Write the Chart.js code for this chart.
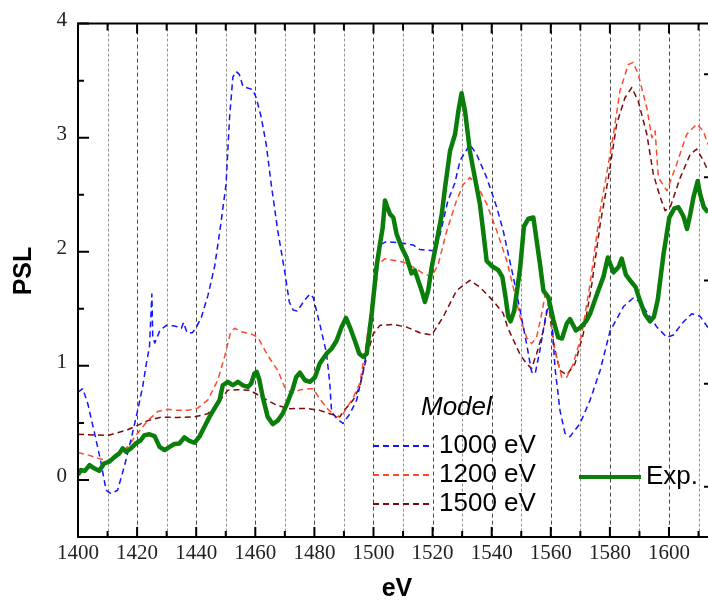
<!DOCTYPE html>
<html><head><meta charset="utf-8">
<script src="https://cdn.jsdelivr.net/npm/chart.js@4.4.1/dist/chart.umd.min.js"></script>
<style>html,body{margin:0;padding:0;background:#fff;overflow:hidden}#wrap{width:708px;height:600px}</style>
</head><body><div id="wrap"><canvas id="c" width="708" height="600"></canvas></div>
<script>
// ---- tick labels / grid ----
const xTicks = [1400,1420,1440,1460,1480,1500,1520,1540,1560,1580,1600];
const xMinorTicks = [1410,1430,1450,1470,1490,1510,1530,1550,1570,1590,1610];
const yTicks = [0,1,2,3,4];
const yMinorTicks = [0.5,1.5,2.5,3.5];
const rightTicks = [0,1,2,3,4];

// ---- series: Model 1000 eV ----
const m1000_eV = [1400,1401.6,1403.3,1405.6,1407.8,1409.5,1411.2,1413.4,1415.7,1417.9,1420.2,1421.9,1423.0,1424.2,1425.0,1425.3,1426.0,1427.7,1429.9,1432.7,1435.0,1435.7,1436.9,1438.7,1440.1,1441.8,1444.0,1446.3,1448.2,1450.1,1451.3,1452.4,1453.5,1454.6,1455.8,1459.2,1460.3,1462.0,1463.7,1465.4,1467.6,1469.9,1471.5,1472.8,1474.2,1476.8,1478.5,1479.6,1481.8,1484.1,1485.2,1485.8,1487.5,1489.7,1492.0,1494.3,1496.5,1499.4,1501.0,1502.2,1504.4,1507.8,1510.1,1513.4,1515.7,1520.2,1522.5,1525.2,1527.5,1529.3,1532.6,1534.9,1538.3,1541.7,1543.9,1545.1,1547.3,1549.6,1551.8,1553.5,1554.7,1556.3,1558.6,1559.7,1560.3,1561.4,1563.1,1564.8,1566.5,1569.9,1573.3,1576.7,1580.1,1580.6,1584.6,1587.9,1590.2,1593.6,1595.9,1599.3,1601.5,1604.3,1607.7,1610.5,1613.2];
const m1000_psl = [0.77,0.80,0.67,0.41,0.15,-0.09,-0.12,-0.09,0.12,0.35,0.61,0.82,1.00,1.17,1.63,1.25,1.20,1.31,1.355,1.35,1.33,1.38,1.29,1.29,1.34,1.43,1.62,1.88,2.22,2.59,3.18,3.53,3.58,3.555,3.45,3.42,3.35,3.18,2.94,2.59,2.185,1.835,1.56,1.49,1.48,1.58,1.63,1.60,1.37,1.11,0.85,0.60,0.54,0.495,0.58,0.70,0.95,1.40,1.75,2.06,2.09,2.08,2.075,2.06,2.02,2.01,2.15,2.45,2.60,2.80,2.94,2.855,2.65,2.39,2.185,2.04,1.78,1.486,1.195,0.947,0.93,1.136,1.486,1.515,1.43,0.99,0.61,0.41,0.38,0.495,0.70,0.96,1.31,1.33,1.52,1.595,1.56,1.43,1.34,1.25,1.27,1.37,1.457,1.435,1.335];

// ---- series: Model 1200 eV ----
const m1200_eV = [1400,1403.3,1406.7,1410.1,1413.4,1416.8,1420.2,1423.6,1427.0,1430.4,1433.8,1437.1,1440.5,1443.9,1447.3,1449.6,1451.6,1453.0,1455.2,1458.6,1460.9,1464.0,1467.6,1469.9,1472.3,1475.1,1478.5,1479.6,1481.8,1484.6,1487.5,1489.7,1493.1,1495.4,1497.7,1499.9,1501.6,1503.9,1507.8,1510.1,1513.4,1516.8,1519.7,1521.9,1524.8,1528.1,1530.4,1532.6,1534.9,1538.3,1541.7,1545.1,1547.3,1549.6,1551.8,1553.5,1555.2,1556.9,1558.4,1559.7,1561.4,1563.7,1565.4,1567.6,1570.5,1573.3,1576.7,1578.9,1581.2,1583.4,1586.2,1587.9,1589.6,1592.5,1594.2,1595.3,1596.4,1599.3,1602.6,1606.0,1609.4,1611.6,1613.2];
const m1200_psl = [0.24,0.22,0.19,0.17,0.22,0.29,0.41,0.52,0.60,0.62,0.61,0.61,0.63,0.70,0.874,1.08,1.29,1.33,1.30,1.28,1.25,1.10,0.96,0.815,0.76,0.79,0.80,0.80,0.71,0.62,0.55,0.58,0.72,0.85,1.22,1.66,1.89,1.94,1.92,1.91,1.865,1.81,1.78,1.89,2.185,2.45,2.59,2.65,2.59,2.42,2.185,1.92,1.69,1.43,1.25,1.195,1.25,1.457,1.66,1.457,1.136,0.90,0.90,1.02,1.28,1.72,2.36,2.68,3.03,3.41,3.64,3.66,3.555,3.26,3.00,3.06,2.65,2.535,2.77,3.03,3.12,3.06,2.94];

// ---- series: Model 1500 eV ----
const m1500_eV = [1400,1410.1,1416.8,1423.6,1428.1,1433.8,1439.4,1443.9,1447.3,1450.7,1454.1,1458.1,1462.6,1467.2,1471.7,1477.3,1481.8,1485.2,1488.6,1489.7,1493.1,1495.4,1497.7,1499.9,1502.2,1506.7,1511.2,1515.7,1519.7,1523.6,1528.1,1532.6,1536.0,1540.5,1543.9,1545.5,1549.6,1551.8,1553.5,1555.2,1557.5,1559.2,1560.9,1563.1,1565.4,1568.2,1571.0,1573.9,1576.7,1579.5,1582.3,1585.1,1587.4,1589.6,1592.5,1594.7,1597.0,1598.7,1600.4,1603.8,1607.2,1609.4,1611.6,1613.2];
const m1500_psl = [0.40,0.39,0.44,0.52,0.55,0.548,0.553,0.58,0.67,0.787,0.79,0.787,0.72,0.655,0.625,0.627,0.61,0.58,0.553,0.60,0.70,0.82,1.08,1.28,1.355,1.364,1.34,1.29,1.27,1.43,1.66,1.75,1.69,1.57,1.46,1.33,1.10,1.02,0.976,1.107,1.31,1.545,1.195,0.96,0.92,1.02,1.28,1.72,2.24,2.65,3.12,3.35,3.44,3.32,3.03,2.68,2.48,2.36,2.39,2.65,2.855,2.90,2.80,2.71];

// ---- series: Experiment ----
const exp_eV = [1400,1401,1402.3,1403.9,1405.6,1407.2,1408.9,1410.6,1412.3,1414.0,1415.1,1416.3,1417.9,1419.6,1421.3,1422.5,1424.2,1425.9,1427.6,1429.3,1431.0,1432.6,1434.3,1436.0,1437.7,1439.4,1441.1,1442.8,1444.5,1446.2,1447.9,1449.0,1450.7,1452.4,1454.1,1455.8,1457.5,1458.6,1459.7,1460.5,1461.4,1462.5,1464.2,1465.9,1467.6,1469.3,1471.0,1472.7,1473.8,1475.1,1476.8,1478.5,1480.2,1481.8,1484.1,1485.8,1487.5,1489.2,1490.7,1492.0,1493.7,1495.2,1496.5,1497.7,1499.4,1501.0,1502.2,1503.1,1503.9,1504.7,1505.6,1506.7,1507.8,1509.5,1511.2,1512.9,1514.0,1515.1,1516.3,1517.4,1518.5,1519.7,1521.4,1523.1,1524.2,1525.9,1527.6,1528.7,1529.8,1531.0,1532.6,1534.3,1536.0,1537.1,1538.3,1540.0,1542.2,1543.6,1544.7,1545.6,1546.4,1547.6,1549.6,1550.9,1552.4,1554.1,1555.2,1556.3,1557.5,1559.2,1560.9,1562.5,1563.8,1565.4,1566.5,1568.5,1570.2,1571.9,1573.3,1575.8,1577.8,1579.3,1581.2,1582.9,1584.0,1585.4,1586.8,1588.7,1590.2,1591.9,1593.6,1594.9,1596.2,1598.1,1600.1,1601.8,1603.2,1604.9,1606.1,1607.2,1608.3,1609.7,1610.5,1611.8,1613.2];
const exp_psl = [0.044,0.087,0.08,0.13,0.10,0.08,0.146,0.16,0.20,0.233,0.277,0.247,0.277,0.32,0.35,0.393,0.40,0.385,0.29,0.262,0.29,0.315,0.32,0.373,0.343,0.326,0.38,0.466,0.553,0.627,0.70,0.83,0.86,0.83,0.86,0.83,0.815,0.845,0.933,0.947,0.874,0.728,0.553,0.49,0.52,0.583,0.685,0.80,0.90,0.94,0.874,0.86,0.90,1.02,1.107,1.15,1.22,1.34,1.42,1.34,1.22,1.107,1.08,1.107,1.457,1.865,2.07,2.21,2.45,2.39,2.33,2.30,2.157,2.04,1.95,1.81,1.836,1.75,1.66,1.56,1.66,1.865,2.09,2.33,2.56,2.885,3.03,3.23,3.39,3.23,2.885,2.65,2.42,2.185,1.92,1.875,1.84,1.78,1.60,1.43,1.39,1.48,1.85,2.22,2.29,2.30,2.10,1.90,1.66,1.60,1.40,1.25,1.24,1.37,1.41,1.31,1.34,1.39,1.457,1.64,1.78,1.95,1.82,1.865,1.94,1.80,1.75,1.69,1.57,1.45,1.39,1.43,1.58,1.97,2.30,2.38,2.39,2.31,2.20,2.33,2.48,2.62,2.51,2.39,2.345];

const pts = (xs, ys) => xs.map((v, i) => ({x: v, y: ys[i]}));

const C_BLUE = '#1414ff', C_RED = '#ff4a2a', C_DRED = '#7d0a0a', C_GREEN = '#0a7d0a';
const DASH = [6, 4];

const framePlugin = {
  id: 'frame',
  beforeDatasetsDraw(chart) {
    const {ctx, chartArea: a, scales: {x}} = chart;
    ctx.save();
    ctx.lineWidth = 1;
    const all = xTicks.concat(xMinorTicks).filter(v => v > 1400);
    for (const v of all) {
      const major = xTicks.includes(v);
      const px = Math.round(x.getPixelForValue(v)) + 0.5;
      ctx.strokeStyle = major ? 'rgba(40,40,40,0.85)' : 'rgba(120,120,120,0.8)';
      ctx.setLineDash(major ? [4, 3] : [3, 2]);
      ctx.beginPath(); ctx.moveTo(px, a.top); ctx.lineTo(px, a.bottom); ctx.stroke();
    }
    ctx.restore();
  },
  afterDatasetsDraw(chart) {
    const {ctx, chartArea: a, scales: {x, y, y2}} = chart;
    ctx.save();
    ctx.setLineDash([]);
    ctx.strokeStyle = '#000';
    ctx.lineWidth = 2;
    // axis lines
    ctx.beginPath();
    ctx.moveTo(a.left, a.top); ctx.lineTo(a.right, a.top);
    ctx.moveTo(a.left, a.top - 1); ctx.lineTo(a.left, a.bottom + 1);
    ctx.moveTo(a.left, a.bottom); ctx.lineTo(a.right, a.bottom);
    ctx.stroke();
    // x ticks (inward, top and bottom)
    ctx.beginPath();
    for (const v of xTicks) {
      const px = x.getPixelForValue(v);
      ctx.moveTo(px, a.bottom); ctx.lineTo(px, a.bottom - 10);
      ctx.moveTo(px, a.top); ctx.lineTo(px, a.top + 10);
    }
    for (const v of xMinorTicks) {
      const px = x.getPixelForValue(v);
      ctx.moveTo(px, a.bottom); ctx.lineTo(px, a.bottom - 6);
      ctx.moveTo(px, a.top); ctx.lineTo(px, a.top + 7);
    }
    // y ticks
    for (const v of yTicks) {
      const py = y.getPixelForValue(v);
      ctx.moveTo(a.left, py); ctx.lineTo(a.left + 11, py);
    }
    for (const v of yMinorTicks) {
      const py = y.getPixelForValue(v);
      ctx.moveTo(a.left, py); ctx.lineTo(a.left + 6, py);
    }
    // right-edge ticks
    for (const v of rightTicks) {
      const py = y2.getPixelForValue(v);
      ctx.moveTo(a.right - 4, py); ctx.lineTo(a.right, py);
    }
    ctx.stroke();

    // axis titles
    ctx.fillStyle = '#000';
    ctx.font = 'bold 25px "Liberation Sans", Arial, sans-serif';
    ctx.textAlign = 'center'; ctx.textBaseline = 'middle';
    ctx.fillText('eV', 397, 589);
    ctx.save();
    ctx.translate(24, 271); ctx.rotate(-Math.PI / 2);
    ctx.fillText('PSL', 0, 0);
    ctx.restore();

    // legend
    ctx.textAlign = 'left';
    ctx.font = 'italic 26px "Liberation Sans", Arial, sans-serif';
    ctx.fillText('Model', 421, 408);
    ctx.font = '26px "Liberation Sans", Arial, sans-serif';
    const items = [[C_BLUE, '1000 eV', 446], [C_RED, '1200 eV', 475], [C_DRED, '1500 eV', 504]];
    ctx.lineWidth = 2;
    for (const [c, t, yy] of items) {
      ctx.strokeStyle = c; ctx.setLineDash(DASH);
      ctx.beginPath(); ctx.moveTo(373, yy); ctx.lineTo(433, yy); ctx.stroke();
      ctx.fillText(t, 439, yy);
    }
    ctx.setLineDash([]);
    ctx.strokeStyle = C_GREEN; ctx.lineWidth = 4;
    ctx.beginPath(); ctx.moveTo(579, 477); ctx.lineTo(641, 477); ctx.stroke();
    ctx.fillText('Exp.', 646, 477);
    ctx.restore();
  }
};

new Chart(document.getElementById('c'), {
  type: 'line',
  data: {
    datasets: [
      {label: 'Exp.', data: pts(exp_eV, exp_psl), borderColor: C_GREEN, borderWidth: 4.5, order: 0},
      {label: '1000 eV', data: pts(m1000_eV, m1000_psl), borderColor: C_BLUE, borderWidth: 1.5, borderDash: DASH, order: 1},
      {label: '1200 eV', data: pts(m1200_eV, m1200_psl), borderColor: C_RED, borderWidth: 1.5, borderDash: DASH, order: 2},
      {label: '1500 eV', data: pts(m1500_eV, m1500_psl), borderColor: C_DRED, borderWidth: 1.5, borderDash: DASH, order: 3}
    ]
  },
  options: {
    responsive: false, animation: false, devicePixelRatio: 1,
    layout: {padding: {top: 22, right: 0, bottom: 0, left: 0}},
    elements: {point: {radius: 0}, line: {tension: 0, fill: false, borderJoinStyle: 'round'}},
    plugins: {legend: {display: false}, tooltip: {enabled: false}},
    scales: {
      x: {
        type: 'linear', min: 1400, max: 1613.2,
        afterBuildTicks: s => { s.ticks = xTicks.map(v => ({value: v})); },
        afterFit: s => { s.height = 63; },
        grid: {display: false, drawTicks: false}, border: {display: false},
        ticks: {font: {family: '"Liberation Serif", "Times New Roman", serif', size: 21}, color: '#222', padding: 4, maxRotation: 0, autoSkip: false, callback: v => String(v)}
      },
      y: {
        type: 'linear', min: -0.5, max: 4,
        afterBuildTicks: s => { s.ticks = yTicks.map(v => ({value: v})); },
        afterFit: s => { s.width = 78; },
        grid: {display: false, drawTicks: false}, border: {display: false},
        ticks: {font: {family: '"Liberation Serif", "Times New Roman", serif', size: 21}, color: '#222', padding: 11, labelOffset: -3, callback: v => String(v)}
      },
      y2: {type: 'linear', display: false, min: -0.486, max: 4.49}
    }
  },
  plugins: [framePlugin]
});
</script>
</body></html>
